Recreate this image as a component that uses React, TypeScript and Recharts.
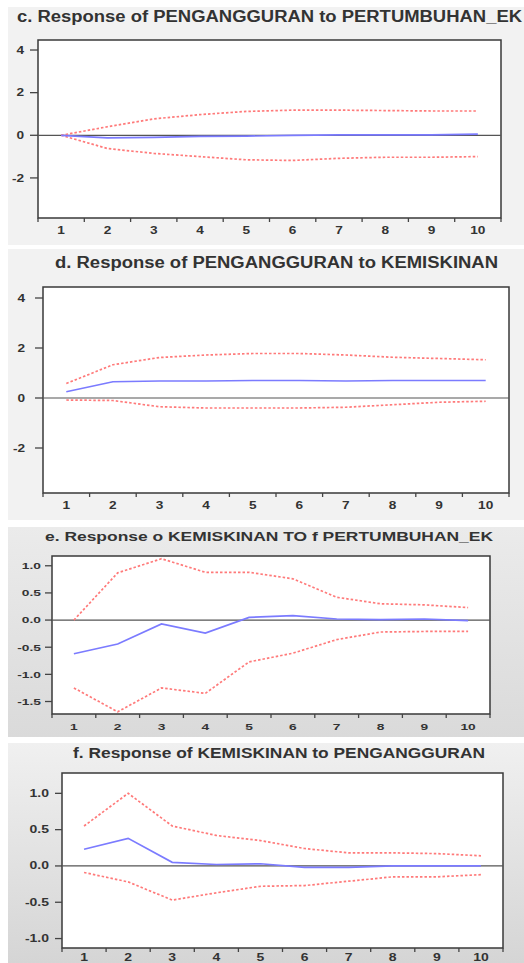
import { LineChart, Line, XAxis, YAxis, ReferenceLine, ReferenceArea, CartesianGrid } from 'recharts'

// periods on the x axis (1..10) and the boundaries where EViews draws tick marks
const periods = [1, 2, 3, 4, 5, 6, 7, 8, 9, 10]
const boundaries = [0.5, 1.5, 2.5, 3.5, 4.5, 5.5, 6.5, 7.5, 8.5, 9.5, 10.5]

// c. Response of PENGANGGURAN to PERTUMBUHAN_EK
const cResp = [0, -0.12, -0.1, -0.05, -0.04, 0, 0.02, 0.02, 0.02, 0.05]
const cUpper = [0, 0.4, 0.77, 0.97, 1.12, 1.18, 1.18, 1.16, 1.14, 1.14]
const cLower = [0, -0.62, -0.85, -1.0, -1.15, -1.18, -1.08, -1.03, -1.03, -1.0]
const cTicks = [-2, 0, 2, 4]

// d. Response of PENGANGGURAN to KEMISKINAN
const dResp = [0.25, 0.65, 0.68, 0.68, 0.7, 0.7, 0.68, 0.7, 0.7, 0.7]
const dUpper = [0.58, 1.33, 1.62, 1.72, 1.78, 1.78, 1.72, 1.63, 1.58, 1.53]
const dLower = [-0.08, -0.1, -0.35, -0.4, -0.4, -0.4, -0.37, -0.27, -0.17, -0.13]
const dTicks = [-2, 0, 2, 4]

// e. Response o KEMISKINAN TO f PERTUMBUHAN_EK
const eResp = [-0.62, -0.44, -0.07, -0.24, 0.05, 0.08, 0.02, 0.01, 0.02, -0.01]
const eUpper = [0.0, 0.87, 1.13, 0.88, 0.88, 0.76, 0.42, 0.3, 0.28, 0.23]
const eLower = [-1.25, -1.69, -1.25, -1.35, -0.77, -0.61, -0.36, -0.22, -0.21, -0.21]
const eTicks = [-1.5, -1.0, -0.5, 0.0, 0.5, 1.0]

// f. Response of KEMISKINAN to PENGANGGURAN
const fResp = [0.23, 0.38, 0.05, 0.02, 0.03, -0.02, -0.02, 0.0, 0.0, 0.0]
const fUpper = [0.55, 1.0, 0.55, 0.42, 0.35, 0.24, 0.18, 0.18, 0.17, 0.14]
const fLower = [-0.09, -0.22, -0.47, -0.37, -0.28, -0.27, -0.21, -0.15, -0.15, -0.12]
const fTicks = [-1.0, -0.5, 0.0, 0.5, 1.0]

const FONT = '"Liberation Sans", Arial, sans-serif'
const TEXT = '#333'

const panels = [
  {
    title: 'c. Response of PENGANGGURAN to PERTUMBUHAN_EK',
    resp: cResp, upper: cUpper, lower: cLower, ticks: cTicks, decimals: 0,
    bgTop: 7, bgBottom: 245, bg: '#f2f2f2',
    box: { left: 38, top: 40, right: 501, bottom: 218 }, yDomain: [-3.88, 4.47],
    titleX: 17, titleY: 21.5, titleSize: 16, titleLen: 505,
    yTickSize: 8, yGap: 6, labelSize: 10.5, stretch: 1.3, labelDy: 16,
  },
  {
    title: 'd.  Response of PENGANGGURAN to KEMISKINAN',
    resp: dResp, upper: dUpper, lower: dLower, ticks: dTicks, decimals: 0,
    bgTop: 249, bgBottom: 520, bg: '#f2f2f2',
    box: { left: 43, top: 287, right: 509, bottom: 493 }, yDomain: [-3.8, 4.44],
    titleX: 55, titleY: 267.5, titleSize: 16, titleLen: 443,
    yTickSize: 8, yGap: 10, labelSize: 10.5, stretch: 1.3, labelDy: 16,
  },
  {
    title: 'e. Response o KEMISKINAN TO f PERTUMBUHAN_EK',
    resp: eResp, upper: eUpper, lower: eLower, ticks: eTicks, decimals: 1,
    bgTop: 527, bgBottom: 737, bg: 'linear-gradient(#ebebeb, #dadada)',
    box: { left: 52, top: 556, right: 490, bottom: 714 }, yDomain: [-1.73, 1.18],
    titleX: 45, titleY: 541, titleSize: 13, titleLen: 448,
    yTickSize: 7, yGap: 4, labelSize: 9.5, stretch: 1.45, labelDy: 16,
  },
  {
    title: 'f. Response of KEMISKINAN to PENGANGGURAN',
    resp: fResp, upper: fUpper, lower: fLower, ticks: fTicks, decimals: 1,
    bgTop: 743, bgBottom: 963, bg: 'linear-gradient(#f0f0f0, #d5d5d5)',
    box: { left: 62, top: 773, right: 503, bottom: 948 }, yDomain: [-1.13, 1.28],
    titleX: 73, titleY: 758, titleSize: 14, titleLen: 412,
    yTickSize: 7, yGap: 6, labelSize: 10, stretch: 1.4, labelDy: 13,
  },
]

function Panel({ p }: { p: any }) {
  const data = periods.map((period, i) => ({
    period,
    resp: p.resp[i],
    upper: p.upper[i],
    lower: p.lower[i],
  }))
  const height = p.bgBottom - p.bgTop
  const xTicks = [...boundaries, ...periods].sort((a, b) => a - b)

  const xTick = (props: any) => {
    const { x, y, payload } = props
    const v = payload.value
    if (!Number.isInteger(v)) {
      return <line x1={x} x2={x} y1={y} y2={y + 4} stroke="#444" strokeWidth={1.3} />
    }
    return (
      <text
        transform={`translate(${x},${y + p.labelDy}) scale(${p.stretch},1)`}
        textAnchor="middle"
        fontSize={p.labelSize}
        fontWeight="bold"
        fontFamily={FONT}
        fill={TEXT}
      >
        {v}
      </text>
    )
  }

  const yTick = (props: any) => {
    const { x, y, payload } = props
    return (
      <text
        transform={`translate(${x},${y}) scale(${p.stretch},1)`}
        textAnchor="end"
        dy="0.35em"
        fontSize={p.labelSize}
        fontWeight="bold"
        fontFamily={FONT}
        fill={TEXT}
      >
        {Number(payload.value).toFixed(p.decimals)}
      </text>
    )
  }

  return (
    <>
      <div
        style={{
          position: 'absolute', left: 8, top: p.bgTop, width: 516, height,
          background: p.bg,
        }}
      />
      <svg
        style={{ position: 'absolute', left: 0, top: 0, overflow: 'hidden' }}
        width={524}
        height={963}
      >
        <text
          x={p.titleX}
          y={p.titleY}
          fontSize={p.titleSize}
          fontWeight="bold"
          fontFamily={FONT}
          fill={TEXT}
          textLength={p.titleLen}
          lengthAdjust="spacingAndGlyphs"
        >
          {p.title}
        </text>
      </svg>
      <div style={{ position: 'absolute', left: 0, top: p.bgTop }}>
        <LineChart
          width={524}
          height={height}
          data={data}
          margin={{ top: p.box.top - p.bgTop, right: 524 - p.box.right, bottom: 0, left: 0 }}
        >
          <CartesianGrid horizontal={false} vertical={false} fill="#fff" />
          <XAxis
            dataKey="period"
            type="number"
            domain={[0.5, 10.5]}
            ticks={xTicks}
            interval={0}
            allowDataOverflow
            axisLine={false}
            tickLine={false}
            tickSize={0}
            tickMargin={0}
            height={p.bgBottom - p.box.bottom}
            tick={xTick}
          />
          <YAxis
            type="number"
            domain={p.yDomain}
            ticks={p.ticks}
            interval={0}
            allowDataOverflow
            axisLine={false}
            tickLine={{ stroke: '#444', strokeWidth: 1.3 }}
            tickSize={p.yTickSize}
            tickMargin={p.yGap}
            width={p.box.left}
            tick={yTick}
          />
          <ReferenceLine y={0} stroke="#555" strokeWidth={1.2} />
          <Line
            dataKey="upper"
            type="linear"
            stroke="#ff7a7a"
            strokeWidth={1.7}
            strokeDasharray="2.5 2"
            dot={false}
            isAnimationActive={false}
          />
          <Line
            dataKey="lower"
            type="linear"
            stroke="#ff7a7a"
            strokeWidth={1.7}
            strokeDasharray="2.5 2"
            dot={false}
            isAnimationActive={false}
          />
          <Line
            dataKey="resp"
            type="linear"
            stroke="#7b7bff"
            strokeWidth={1.7}
            dot={false}
            isAnimationActive={false}
          />
          <ReferenceArea
            x1={0.5}
            x2={10.5}
            y1={p.yDomain[0]}
            y2={p.yDomain[1]}
            fill="none"
            stroke="#3a3a3a"
            strokeWidth={1.5}
          />
        </LineChart>
      </div>
    </>
  )
}

export default function App() {
  return (
    <div
      style={{
        position: 'absolute', left: 0, top: 0, width: 524, height: 963,
        background: '#fff', overflow: 'hidden', fontFamily: FONT,
      }}
    >
      {panels.map((p) => (
        <Panel key={p.title} p={p} />
      ))}
    </div>
  )
}
